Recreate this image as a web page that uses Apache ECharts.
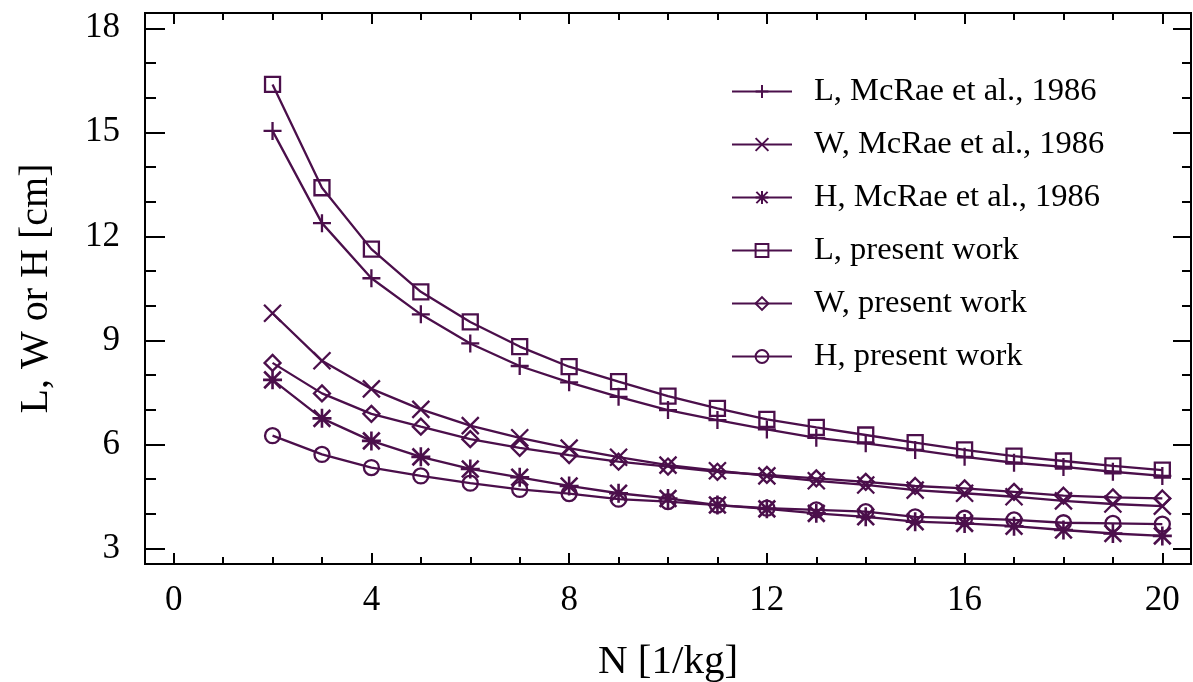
<!DOCTYPE html>
<html>
<head>
<meta charset="utf-8">
<script src="https://cdn.jsdelivr.net/npm/echarts@6/dist/echarts.min.js"></script>
<style>
html,body{margin:0;padding:0;background:#fff;}
#chart{width:1193px;height:682px;}
</style>
</head>
<body>
<div id="chart"></div>
<script>
// ---- data ----
const N = [2, 3, 4, 5, 6, 7, 8, 9, 10, 11, 12, 13, 14, 15, 16, 17, 18, 19, 20];
const L_McRae   = [15.04, 12.38, 10.79, 9.75, 8.91, 8.26, 7.79, 7.37, 6.99, 6.70, 6.43, 6.19, 6.03, 5.84, 5.64, 5.47, 5.35, 5.21, 5.09];
const W_McRae   = [9.78, 8.41, 7.60, 7.01, 6.54, 6.19, 5.89, 5.63, 5.40, 5.24, 5.09, 4.95, 4.83, 4.68, 4.59, 4.49, 4.37, 4.28, 4.22];
const H_McRae   = [7.86, 6.75, 6.10, 5.64, 5.29, 5.05, 4.80, 4.59, 4.44, 4.25, 4.14, 4.01, 3.91, 3.77, 3.72, 3.64, 3.53, 3.43, 3.36];
const L_present = [16.38, 13.40, 11.63, 10.40, 9.53, 8.82, 8.24, 7.81, 7.39, 7.04, 6.72, 6.49, 6.27, 6.05, 5.84, 5.66, 5.52, 5.38, 5.26];
const W_present = [8.35, 7.47, 6.88, 6.51, 6.15, 5.90, 5.69, 5.50, 5.36, 5.21, 5.12, 5.02, 4.92, 4.80, 4.73, 4.63, 4.52, 4.47, 4.44];
const H_present = [6.25, 5.71, 5.33, 5.09, 4.88, 4.70, 4.58, 4.42, 4.35, 4.25, 4.16, 4.11, 4.06, 3.91, 3.87, 3.82, 3.74, 3.72, 3.70];
const seriesNames = ['L, McRae et al., 1986', 'W, McRae et al., 1986', 'H, McRae et al., 1986',
                     'L, present work', 'W, present work', 'H, present work'];
const xMajorTicks = [0, 4, 8, 12, 16, 20];
const xMinorTicks = [0, 1, 2, 3, 4, 5, 6, 7, 8, 9, 10, 11, 12, 13, 14, 15, 16, 17, 18, 19, 20];
const yMajorTicks = [3, 6, 9, 12, 15, 18];
const yMinorTicks = [3, 4, 5, 6, 7, 8, 9, 10, 11, 12, 13, 14, 15, 16, 17, 18];
const xTitle = 'N [1/kg]';
const yTitle = 'L, W or H [cm]';

// ---- style ----
const C = '#4b0f4b';
const FONT = 'Liberation Serif';
const SYM = {
  plus: 'path://M0,5 L10,5 M5,0 L5,10',
  cross: 'path://M0,0 L10,10 M0,10 L10,0',
  star: 'path://M0,5 L10,5 M5,0 L5,10 M0.6,0.6 L9.4,9.4 M0.6,9.4 L9.4,0.6',
  square: 'rect',
  diamond: 'diamond',
  circle: 'circle'
};
const seriesDefs = [
  [L_McRae, SYM.plus, 18],
  [W_McRae, SYM.cross, 17],
  [H_McRae, SYM.star, 19],
  [L_present, SYM.square, 15],
  [W_present, SYM.diamond, 16],
  [H_present, SYM.circle, 15]
];

const XMIN = -0.58, XMAX = 20.58, YMIN = 2.55, YMAX = 18.44;

function xAxisDef(pos, ticks, len, opts) {
  return Object.assign({
    type: 'value', position: pos, min: XMIN, max: XMAX,
    axisLine: { show: true, onZero: false, lineStyle: { color: '#000', width: 2 } },
    axisTick: { show: true, inside: true, length: len, customValues: ticks, lineStyle: { color: '#000', width: 2 } },
    axisLabel: { show: false },
    splitLine: { show: false }
  }, opts || {});
}
function yAxisDef(pos, ticks, len, opts) {
  return Object.assign({
    type: 'value', position: pos, min: YMIN, max: YMAX,
    axisLine: { show: true, onZero: false, lineStyle: { color: '#000', width: 2 } },
    axisTick: { show: true, inside: true, length: len, customValues: ticks, lineStyle: { color: '#000', width: 2 } },
    axisLabel: { show: false },
    splitLine: { show: false }
  }, opts || {});
}

const option = {
  animation: false,
  backgroundColor: '#fff',
  grid: { left: 145, right: 2, top: 13, bottom: 118, containLabel: false, outerBoundsMode: 'none' },
  xAxis: [
    xAxisDef('bottom', xMajorTicks, 11, {
      axisLabel: { show: true, customValues: xMajorTicks, fontFamily: FONT, fontSize: 35, color: '#000', margin: 19 },
      name: xTitle, nameLocation: 'middle', nameGap: 78,
      nameTextStyle: { fontFamily: FONT, fontSize: 41, color: '#000' }
    }),
    xAxisDef('bottom', xMinorTicks, 7),
    xAxisDef('top', xMajorTicks, 11),
    xAxisDef('top', xMinorTicks, 7)
  ],
  yAxis: [
    yAxisDef('left', yMajorTicks, 20, {
      axisLabel: { show: true, customValues: yMajorTicks, fontFamily: FONT, fontSize: 35, color: '#000', margin: 25 },
      name: yTitle, nameLocation: 'middle', nameGap: 89,
      nameTextStyle: { fontFamily: FONT, fontSize: 40, color: '#000' }
    }),
    yAxisDef('left', yMinorTicks, 11),
    yAxisDef('right', yMajorTicks, 18),
    yAxisDef('right', yMinorTicks, 9)
  ],
  legend: {
    orient: 'vertical', left: 731, top: 75, padding: 0,
    itemWidth: 60, itemHeight: 16, itemGap: 20,
    data: seriesNames,
    textStyle: { fontFamily: FONT, fontSize: 32.5, lineHeight: 32, color: '#000', padding: [0, 0, 0, 17] }
  },
  series: seriesDefs.map(function (d, i) {
    return {
      name: seriesNames[i], type: 'line',
      xAxisIndex: 0, yAxisIndex: 0,
      data: N.map(function (n, k) { return [n, d[0][k]]; }),
      symbol: d[1], symbolSize: d[2], showAllSymbol: true,
      lineStyle: { color: C, width: 2.3 },
      itemStyle: { color: 'rgba(0,0,0,0)', borderColor: C, borderWidth: i === 2 ? 2.6 : 2.3 },
      emphasis: { disabled: true },
      z: 2
    };
  })
};

const chart = echarts.init(document.getElementById('chart'), null, { renderer: 'canvas' });
chart.setOption(option);
</script>
</body>
</html>
